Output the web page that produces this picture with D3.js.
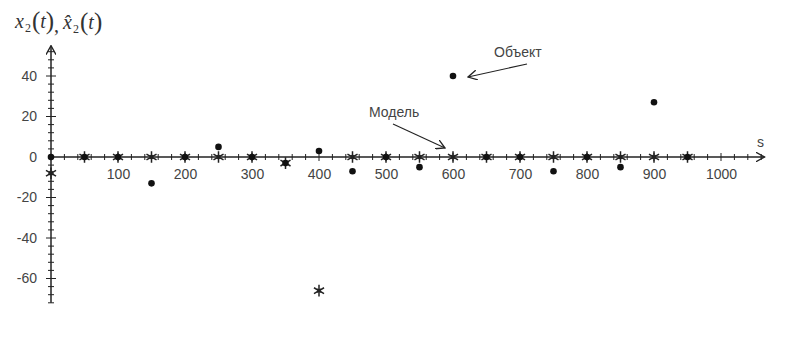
<!DOCTYPE html>
<html>
<head>
<meta charset="utf-8">
<script src="https://cdn.jsdelivr.net/npm/d3@7"></script>
<style>
  body { margin: 0; background: #fff; }
  svg { display: block; }
  .lbl { font-family: "Liberation Sans", Arial, sans-serif; font-size: 14px; fill: #444; }
</style>
</head>
<body>
<div id="chart"></div>
<script>
// time points (s)
const times = [0, 50, 100, 150, 200, 250, 300, 350, 400, 450, 500, 550, 600, 650, 700, 750, 800, 850, 900, 950];
// object x2(t) - dots
const objectVals = [0, 0, 0, -13, 0, 5, 0, -3, 3, -7, 0, -5, 40, 0, 0, -7, 0, -5, 27, 0];
// model x2^(t) - stars
const modelVals = [-8, 0, 0, 0, 0, 0, 0, -3, -66, 0, 0, 0, 0, 0, 0, 0, 0, 0, 0, 0];

const xLabels = [100, 200, 300, 400, 500, 600, 700, 800, 900, 1000];
const yLabels = [40, 20, 0, -20, -40, -60];

const width = 786, height = 338;
const svg = d3.select('#chart').append('svg')
  .attr('width', width).attr('height', height);

const x = d3.scaleLinear().domain([0, 1000]).range([51, 721]);
const y = d3.scaleLinear().domain([0, 40]).range([157, 76]);

const ink = '#222';

// arrow marker
svg.append('defs').append('marker')
  .attr('id', 'arr').attr('viewBox', '0 0 10 10')
  .attr('refX', 9).attr('refY', 5)
  .attr('markerWidth', 10).attr('markerHeight', 10)
  .attr('markerUnits', 'userSpaceOnUse')
  .attr('orient', 'auto')
  .append('path').attr('d', 'M0,0 L9,5 L0,10')
  .attr('fill', 'none').attr('stroke', ink).attr('stroke-width', 1.3);

// axes lines
svg.append('line')
  .attr('x1', x(0) - 2).attr('x2', x(1065))
  .attr('y1', y(0)).attr('y2', y(0))
  .attr('stroke', ink).attr('stroke-width', 1.5)
  .attr('marker-end', 'url(#arr)');
svg.append('line')
  .attr('x1', x(0)).attr('x2', x(0))
  .attr('y1', y(-72)).attr('y2', y(55))
  .attr('stroke', ink).attr('stroke-width', 1.5)
  .attr('marker-end', 'url(#arr)');

// minor ticks
const xTicks = d3.range(20, 1061, 20);
svg.append('g').selectAll('line').data(xTicks).join('line')
  .attr('x1', d => x(d)).attr('x2', d => x(d))
  .attr('y1', d => y(0) - (d % 100 === 0 ? 4 : 3))
  .attr('y2', d => y(0) + (d % 100 === 0 ? 4 : 3))
  .attr('stroke', ink).attr('stroke-width', 1);

const yTicks = d3.range(-72, 53, 4).filter(d => d !== 0);
svg.append('g').selectAll('line').data(yTicks).join('line')
  .attr('x1', d => x(0) - (d % 20 === 0 ? 5 : 3))
  .attr('x2', d => x(0) + (d % 20 === 0 ? 5 : 3))
  .attr('y1', d => y(d)).attr('y2', d => y(d))
  .attr('stroke', ink).attr('stroke-width', 1);

// tick labels via axes
const gx = svg.append('g').attr('transform', `translate(0,${y(0)})`)
  .call(d3.axisBottom(x).tickValues(xLabels).tickFormat(d => String(d)).tickSize(0).tickPadding(12));
gx.select('.domain').remove();
gx.selectAll('text').attr('class', 'lbl').attr('font-family', null).attr('font-size', null);

const gy = svg.append('g').attr('transform', `translate(${x(0) - 14},0)`)
  .call(d3.axisLeft(y).tickValues(yLabels).tickFormat(d => String(d)).tickSize(0).tickPadding(0));
gy.select('.domain').remove();
gy.selectAll('text').attr('class', 'lbl').attr('font-family', null).attr('font-size', null);

// model stars
const star = d3.symbol().type(d3.symbolAsterisk).size(95);
svg.append('g').selectAll('path').data(times).join('path')
  .attr('transform', (d, i) => `translate(${x(d)},${y(modelVals[i])})`)
  .attr('d', star)
  .attr('fill', 'none').attr('stroke', ink).attr('stroke-width', 1.5);
svg.append('g').selectAll('path').data(times).join('path')
  .attr('transform', (d, i) => `translate(${x(d)},${y(modelVals[i])}) rotate(45)`)
  .attr('d', d3.symbol().type(d3.symbolCross).size(14))
  .attr('fill', ink);

// object dots
svg.append('g').selectAll('circle').data(times).join('circle')
  .attr('cx', d => x(d)).attr('cy', (d, i) => y(objectVals[i]))
  .attr('r', 3.3).attr('fill', '#111');

// annotations
svg.append('text').attr('class', 'lbl').attr('x', 494).attr('y', 57).text('Объект');
svg.append('line').attr('x1', 527).attr('y1', 64).attr('x2', 468).attr('y2', 77)
  .attr('stroke', ink).attr('stroke-width', 1.1).attr('marker-end', 'url(#arr)');
svg.append('text').attr('class', 'lbl').attr('x', 369).attr('y', 117).text('Модель');
svg.append('line').attr('x1', 393).attr('y1', 124).attr('x2', 445).attr('y2', 148)
  .attr('stroke', ink).attr('stroke-width', 1.1).attr('marker-end', 'url(#arr)');

// axis names
svg.append('text').attr('class', 'lbl').attr('x', 757).attr('y', 147).text('s');

const title = svg.append('text')
  .attr('x', 15).attr('y', 28)
  .attr('font-family', '"Liberation Serif", "Times New Roman", serif')
  .attr('font-size', 20).attr('fill', '#333');
const part = (t, opt) => {
  const s = title.append('tspan').text(t);
  if (opt) Object.entries(opt).forEach(([k, v]) => s.attr(k, v));
};
part('x', { 'font-style': 'italic' });
part('2', { 'font-size': 12, dy: 4, dx: 1 });
part('(', { 'font-size': 25, dy: -3, dx: 1 });
part('t', { 'font-style': 'italic', dy: -1 });
part(')', { 'font-size': 25, dy: 1 });
part(',', { dy: 3 });
part('x\u0302', { 'font-style': 'italic', dx: 4, dy: -3 });
part('2', { 'font-size': 12, dy: 4, dx: 1 });
part('(', { 'font-size': 25, dy: -3, dx: 1 });
part('t', { 'font-style': 'italic', dy: -1 });
part(')', { 'font-size': 25, dy: 1 });
</script>
</body>
</html>
